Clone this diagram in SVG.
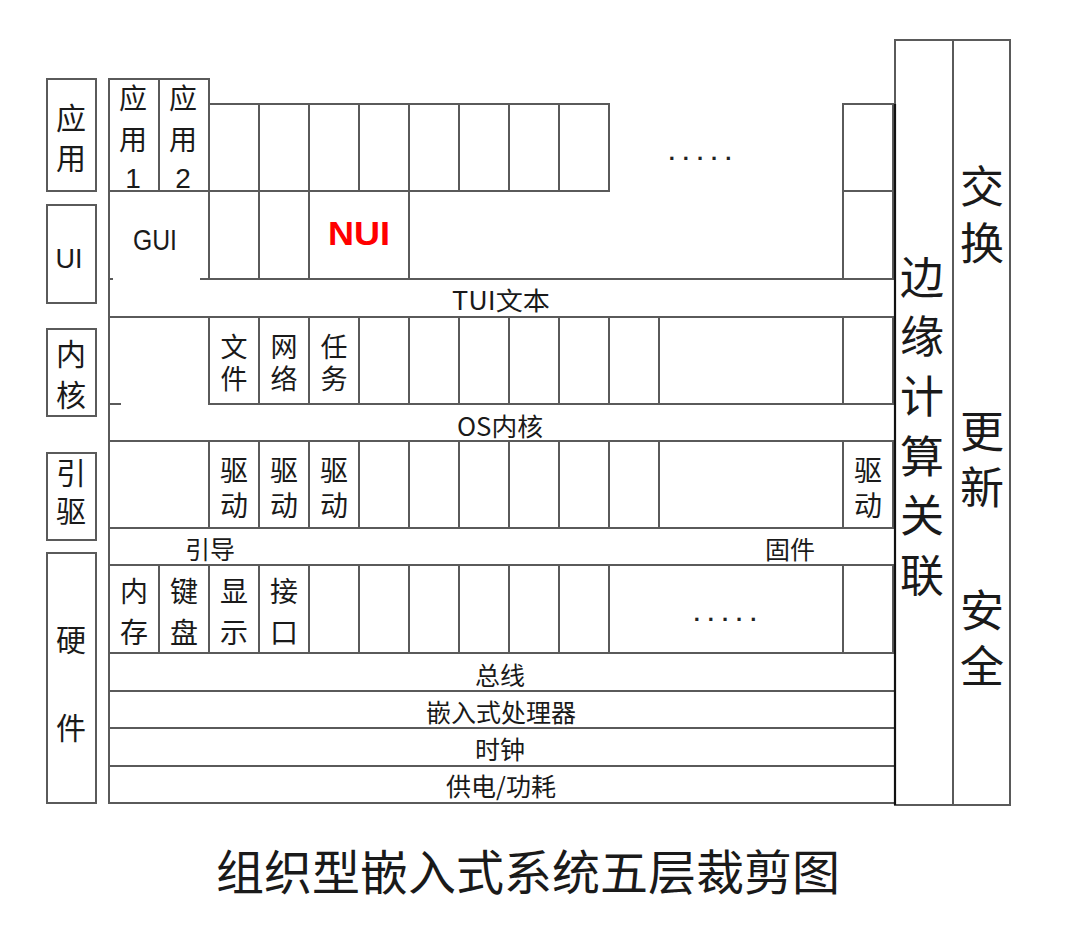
<svg xmlns="http://www.w3.org/2000/svg" width="1090" height="952" viewBox="0 0 1090 952">
<style>
.c{fill:none;stroke:#5a5a5a;stroke-width:2}
.k{fill:none;stroke:#111;stroke-width:2.2}
.t{font-family:"Noto Sans CJK SC","Noto Sans",sans-serif;fill:#1a1a1a;text-anchor:middle;dominant-baseline:central}
.v{font-family:"Noto Sans CJK SC","Noto Sans",sans-serif;fill:#1a1a1a;text-anchor:start;writing-mode:vertical-rl;text-orientation:upright}
.lt{font-family:"Liberation Sans","Noto Sans",sans-serif;fill:#1a1a1a;text-anchor:middle}
.f26{font-size:25px}
.kc{font-size:27px;letter-spacing:5px}
.dc{font-size:28px;letter-spacing:7px}
.ac{font-size:28px;letter-spacing:13px}
.rc{font-size:44px}
.dots{font-family:"Liberation Sans",sans-serif;font-size:22px;font-weight:bold;fill:#222;letter-spacing:8px;text-anchor:middle}
</style>
<rect width="1090" height="952" fill="#fff"/>

<!-- left layer labels -->
<g id="label-app"><rect class="c" x="47" y="79" width="49" height="112"/><text class="v" font-size="30" letter-spacing="10" x="71" y="103">应用</text></g>
<g id="label-ui"><rect class="c" x="47" y="205" width="49" height="98"/><text class="lt" font-size="28" x="69" y="268" textLength="27" lengthAdjust="spacingAndGlyphs">UI</text></g>
<g id="label-kernel"><rect class="c" x="47" y="329" width="49" height="87"/><text class="v" font-size="30" letter-spacing="11" x="71" y="339">内核</text></g>
<g id="label-driver"><rect class="c" x="47" y="453" width="49" height="87"/><text class="v" font-size="30" letter-spacing="8" x="71" y="458">引驱</text></g>
<g id="label-hw"><rect class="c" x="47" y="553" width="49" height="250"/><text class="v" font-size="30" letter-spacing="58" x="71" y="625">硬件</text></g>

<!-- application row -->
<g id="app1"><rect class="c" x="109" y="79" width="50" height="112"/><text class="v ac" x="133" y="84">应用</text><text class="lt" font-size="28" x="133" y="188">1</text></g>
<g id="app2"><rect class="c" x="159" y="79" width="50" height="112"/><text class="v ac" x="183" y="84">应用</text><text class="lt" font-size="28" x="183" y="188">2</text></g>
<g id="app-cells">
<rect class="c" x="209" y="104" width="50" height="87"/><rect class="c" x="259" y="104" width="50" height="87"/><rect class="c" x="309" y="104" width="50" height="87"/><rect class="c" x="359" y="104" width="50" height="87"/><rect class="c" x="409" y="104" width="50" height="87"/><rect class="c" x="459" y="104" width="50" height="87"/><rect class="c" x="509" y="104" width="50" height="87"/><rect class="c" x="559" y="104" width="50" height="87"/><rect class="c" x="843" y="104" width="50" height="87"/>
</g>
<g id="app-more"><text class="dots" x="704" y="160">.....</text></g>

<!-- UI row -->
<g id="gui"><path class="c" d="M113,279 H109 V191 H209 V279 H200"/><text class="lt" font-size="30" x="155" y="250" textLength="44" lengthAdjust="spacingAndGlyphs">GUI</text></g>
<g id="ui-cells"><rect class="c" x="209" y="191" width="50" height="88"/><rect class="c" x="259" y="191" width="50" height="88"/><rect class="c" x="843" y="191" width="50" height="88"/></g>
<g id="nui"><rect class="c" x="309" y="191" width="100" height="88"/><text class="lt" font-size="33" font-weight="bold" style="fill:#ff0000" x="359" y="245" textLength="62" lengthAdjust="spacingAndGlyphs">NUI</text></g>

<!-- TUI band -->
<g id="tui"><path class="c" d="M200,279 H895 M109,317 H895"/><text class="t f26" x="501" y="299" textLength="98" lengthAdjust="spacingAndGlyphs">TUI文本</text></g>

<!-- kernel row -->
<g id="kernel-left"><path class="c" d="M109,404 H121"/></g>
<g id="k-file"><rect class="c" x="209" y="317" width="50" height="87"/><text class="v kc" x="234" y="333.5">文件</text></g>
<g id="k-net"><rect class="c" x="259" y="317" width="50" height="87"/><text class="v kc" x="284" y="333.5">网络</text></g>
<g id="k-task"><rect class="c" x="309" y="317" width="50" height="87"/><text class="v kc" x="334" y="333.5">任务</text></g>
<g id="k-cells">
<rect class="c" x="359" y="317" width="50" height="87"/><rect class="c" x="409" y="317" width="50" height="87"/><rect class="c" x="459" y="317" width="50" height="87"/><rect class="c" x="509" y="317" width="50" height="87"/><rect class="c" x="559" y="317" width="50" height="87"/><rect class="c" x="609" y="317" width="50" height="87"/><rect class="c" x="659" y="317" width="184" height="87"/><rect class="c" x="843" y="317" width="50" height="87"/>
</g>

<!-- OS kernel band -->
<g id="os"><path class="c" d="M209,404 H895 M109,441 H895"/><text class="t f26" x="500" y="425" textLength="86" lengthAdjust="spacingAndGlyphs">OS内核</text></g>

<!-- driver row -->
<g id="d-left"><rect class="c" x="109" y="441" width="100" height="87"/></g>
<g id="d1"><rect class="c" x="209" y="441" width="50" height="87"/><text class="v dc" x="234" y="456">驱动</text></g>
<g id="d2"><rect class="c" x="259" y="441" width="50" height="87"/><text class="v dc" x="284" y="456">驱动</text></g>
<g id="d3"><rect class="c" x="309" y="441" width="50" height="87"/><text class="v dc" x="334" y="456">驱动</text></g>
<g id="d-cells">
<rect class="c" x="359" y="441" width="50" height="87"/><rect class="c" x="409" y="441" width="50" height="87"/><rect class="c" x="459" y="441" width="50" height="87"/><rect class="c" x="509" y="441" width="50" height="87"/><rect class="c" x="559" y="441" width="50" height="87"/><rect class="c" x="609" y="441" width="50" height="87"/><rect class="c" x="659" y="441" width="184" height="87"/>
</g>
<g id="d4"><rect class="c" x="843" y="441" width="50" height="87"/><text class="v dc" x="868" y="456">驱动</text></g>

<!-- boot / firmware band -->
<g id="boot"><rect class="c" x="109" y="528" width="786" height="37"/><text class="t f26" x="210" y="548">引导</text><text class="t f26" x="790" y="548">固件</text></g>

<!-- hardware row -->
<g id="h-mem"><rect class="c" x="109" y="565" width="50" height="88"/><text class="v ac" x="134" y="577">内存</text></g>
<g id="h-kbd"><rect class="c" x="159" y="565" width="50" height="88"/><text class="v ac" x="184" y="577">键盘</text></g>
<g id="h-disp"><rect class="c" x="209" y="565" width="50" height="88"/><text class="v ac" x="234" y="577">显示</text></g>
<g id="h-port"><rect class="c" x="259" y="565" width="50" height="88"/><text class="v ac" x="284" y="577">接口</text></g>
<g id="h-cells">
<rect class="c" x="309" y="565" width="50" height="88"/><rect class="c" x="359" y="565" width="50" height="88"/><rect class="c" x="409" y="565" width="50" height="88"/><rect class="c" x="459" y="565" width="50" height="88"/><rect class="c" x="509" y="565" width="50" height="88"/><rect class="c" x="559" y="565" width="50" height="88"/><rect class="c" x="609" y="565" width="234" height="88"/><rect class="c" x="843" y="565" width="50" height="88"/>
</g>
<g id="h-more"><text class="dots" x="729" y="621">.....</text></g>

<!-- bottom bands -->
<g id="bus"><rect class="c" x="109" y="653" width="786" height="38"/><text class="t f26" x="500" y="674">总线</text></g>
<g id="cpu"><rect class="c" x="109" y="691" width="786" height="37"/><text class="t f26" x="501" y="711">嵌入式处理器</text></g>
<g id="clock"><rect class="c" x="109" y="728" width="786" height="38"/><text class="t f26" x="500" y="748">时钟</text></g>
<g id="power"><rect class="c" x="109" y="766" width="786" height="37"/><text class="t f26" x="501" y="785">供电/功耗</text></g>

<!-- frame -->
<g id="frame"><path class="c" d="M109,79 V803"/></g>

<!-- right columns -->
<g id="edge"><rect class="c" x="895" y="40" width="58" height="765"/><path class="k" d="M895,104 V805"/>
<text class="v rc" letter-spacing="15.6" x="922" y="255">边缘计算关联</text></g>
<g id="exchange"><rect class="c" x="953" y="40" width="57" height="765"/>
<text class="v rc" letter-spacing="13" x="982" y="164">交换</text>
<text class="v rc" letter-spacing="12" x="982" y="409">更新</text>
<text class="v rc" letter-spacing="12" x="982" y="588">安全</text></g>

<!-- title -->
<g id="title"><text class="t" font-size="48" x="528" y="869">组织型嵌入式系统五层裁剪图</text></g>
</svg>
